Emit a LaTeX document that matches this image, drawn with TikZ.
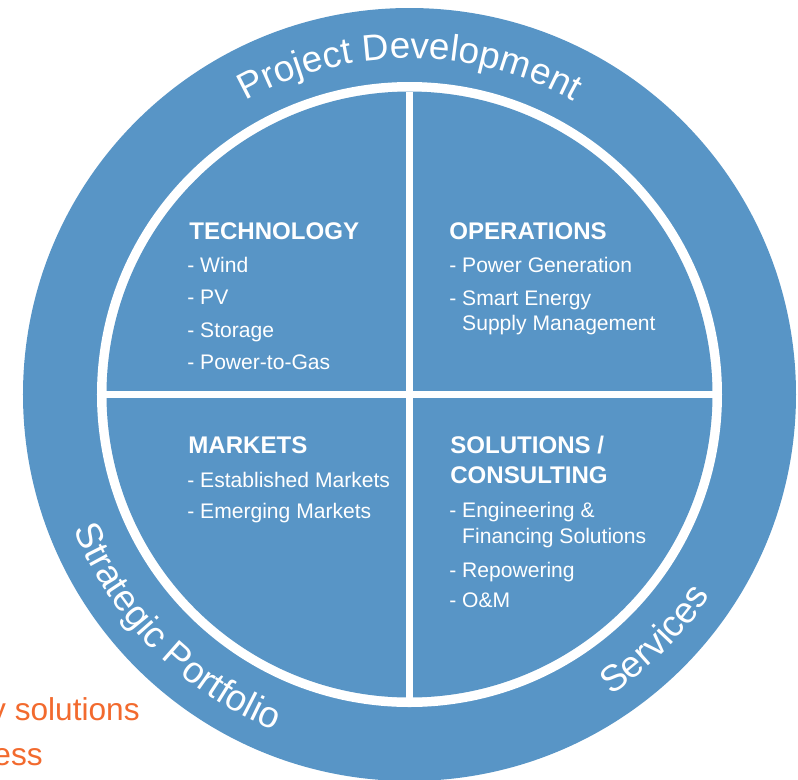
\documentclass[tikz,border=0pt]{standalone}
\usepackage{fontspec}
\setmainfont{Liberation Sans}
\usetikzlibrary{decorations.text}
\definecolor{ringblue}{RGB}{88,149,198}
\definecolor{slideorange}{RGB}{242,106,46}
\tikzset{
  head/.style={anchor=base west, inner sep=0pt, text=white, font=\fontsize{13.7}{16}\selectfont\bfseries},
  item/.style={anchor=base west, inner sep=0pt, text=white, font=\fontsize{12}{14}\selectfont},
  cuttext/.style={anchor=base east, inner sep=0pt, text=slideorange, font=\fontsize{18}{22}\selectfont},
  ringtext/.style={decorate, decoration={text along path, text align=center,
      text={|\fontsize{21}{25}\selectfont\color{white}|#1}}}
}
\begin{document}
\begin{tikzpicture}[x=0.02cm, y=0.02cm]
        \useasboundingbox (-409.5, -384.5) rectangle (388.5, 394.5);
        % rings and cross
        \fill[ringblue] (0, 0) circle (386.5);
        \fill[white] (0, 0) circle (312.5);
        \fill[ringblue] (0, 0) circle (303);
        \draw[white, line width=0.13cm] (-303, 0) -- (303, 0);
        \draw[white, line width=0.13cm] (0, -303) -- (0, 303);
        % labels on the ring
        \path[ringtext=Project Development] (180:336) arc[start angle=180, end angle=0, radius=336];
        \path[ringtext=Strategic Portfolio] (-180:362) arc[start angle=-180, end angle=-90, radius=362];
        \path[ringtext=Services] (-90:362) arc[start angle=-90, end angle=0, radius=362];
        % technology
        \node[head] (tech) at (-220.5, 155.5) {TECHNOLOGY};
        \node[item] (wind) at (-222.5, 122.5) {- Wind};
        \node[item] (pv) at (-222.5, 90.5) {- PV};
        \node[item] (storage) at (-222.5, 57.5) {- Storage};
        \node[item] (ptg) at (-222.5, 25.5) {- Power-to-Gas};
        % operations
        \node[head] (ops) at (39.5, 155.5) {OPERATIONS};
        \node[item] (powergen) at (39.5, 122.5) {- Power Generation};
        \node[item] (smart) at (39.5, 89.5) {- Smart Energy};
        \node[item] (supply) at (39.5, 64.5) {\hphantom{- }Supply Management};
        % markets
        \node[head] (markets) at (-221.5, -58.5) {MARKETS};
        \node[item] (established) at (-222.5, -92.5) {- Established Markets};
        \node[item] (emerging) at (-222.5, -123.5) {- Emerging Markets};
        % solutions / consulting
        \node[head] (solutions) at (40.5, -58.5) {SOLUTIONS /};
        \node[head] (consulting) at (40.5, -88.5) {CONSULTING};
        \node[item] (engineering) at (39.5, -122.5) {- Engineering \&};
        \node[item] (financing) at (39.5, -148.5) {\hphantom{- }Financing Solutions};
        \node[item] (repowering) at (39.5, -182.5) {- Repowering};
        \node[item] (om) at (39.5, -212.5) {- O\&M};
        % cut-off slide text
        \node[cuttext] (energysol) at (-269.5, -325.5) {y solutions};
        \node[cuttext] (business) at (-366.5, -370.5) {ess};
    \end{tikzpicture}
\end{document}
